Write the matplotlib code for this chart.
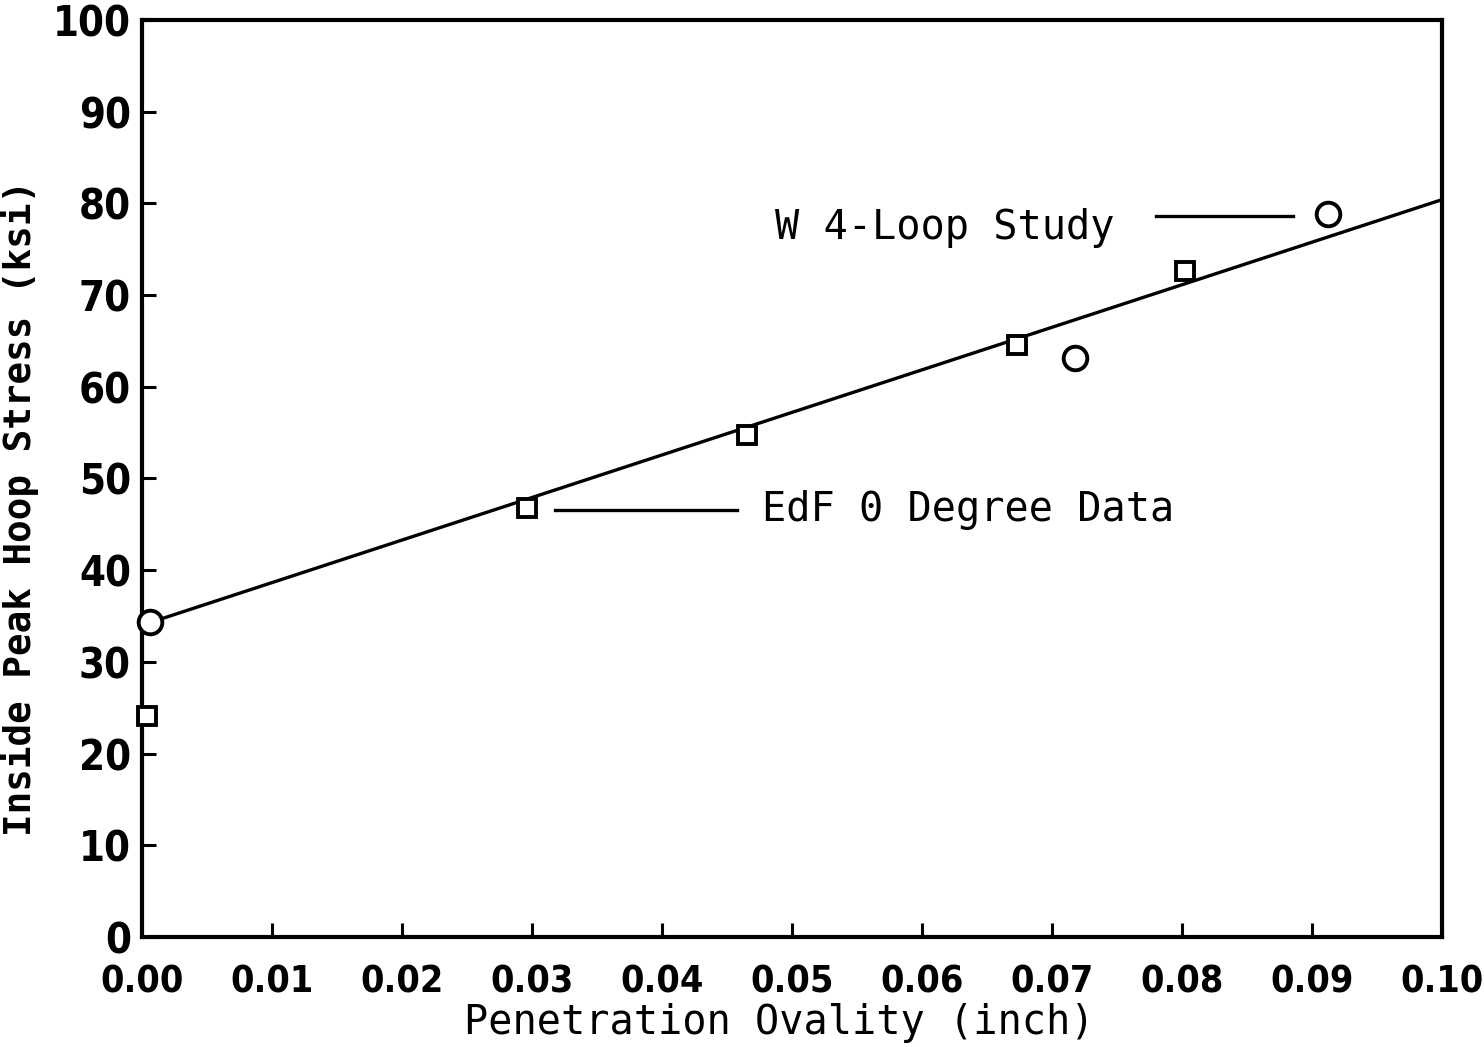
import matplotlib.pyplot as plt

# EdF 0 degree data (squares)
edf_x = [0.0004, 0.0296, 0.0465, 0.0673, 0.0802]
edf_y = [24.1, 46.8, 54.7, 64.6, 72.6]

# W 4-loop study (circles)
w_x = [0.0006, 0.0718, 0.0912]
w_y = [34.3, 63.1, 78.8]

# fitted line
fit_x = [0.0, 0.10]
fit_y = [34.0, 80.4]

xticks = [0.00, 0.01, 0.02, 0.03, 0.04, 0.05, 0.06, 0.07, 0.08, 0.09, 0.10]
yticks = [0, 10, 20, 30, 40, 50, 60, 70, 80, 90, 100]

plt.rcParams['font.family'] = ['DejaVu Sans']
fig = plt.figure(figsize=(14.84, 10.47), dpi=100)
ax = fig.add_axes([0.0957, 0.1051, 0.8760, 0.8759])

ax.plot(fit_x, fit_y, c='black', lw=2.4, zorder=2)
ax.plot(edf_x, edf_y, ls='none', marker='s', ms=13.5, mfc='white',
        mec='black', mew=2.8, zorder=3, clip_on=False)
ax.plot(w_x, w_y, ls='none', marker='o', ms=17, mfc='white',
        mec='black', mew=2.8, zorder=3, clip_on=False)

# labels with leader lines
mono = 'DejaVu Sans Mono'
ax.plot([0.0318, 0.0458], [46.6, 46.6], c='black', lw=2.4)
ax.text(0.0477, 46.6, 'EdF 0 Degree Data', fontsize=29, family=mono,
        va='center', ha='left')
ax.plot([0.0780, 0.0885], [78.6, 78.6], c='black', lw=2.4)
ax.text(0.0487, 77.3, 'W 4-Loop Study', fontsize=29, family=mono,
        va='center', ha='left')

ax.set_xlim(0, 0.10)
ax.set_ylim(0, 100)
ax.set_xticks(xticks)
ax.set_yticks(yticks)
ax.set_xticklabels(['%.2f' % v for v in xticks], fontsize=27,
                   fontweight='bold', fontstretch='condensed')
ax.set_yticklabels([str(v) for v in yticks], fontsize=30,
                   fontweight='bold', fontstretch='condensed')
ax.tick_params(axis='x', direction='in', length=10, width=2.2, pad=20)
ax.tick_params(axis='y', direction='in', length=10, width=2.2, pad=8)
for s in ax.spines.values():
    s.set_linewidth(3)

ax.set_xlabel('Penetration Ovality (inch)', fontsize=29, family=mono)
ax.xaxis.set_label_coords(0.49, -0.072)
ax.set_ylabel('Inside Peak Hoop Stress (ksi)', fontsize=27, family=mono,
              fontweight='bold')
ax.yaxis.set_label_coords(-0.079, 0.468)

fig.savefig('out.png', dpi=100)
